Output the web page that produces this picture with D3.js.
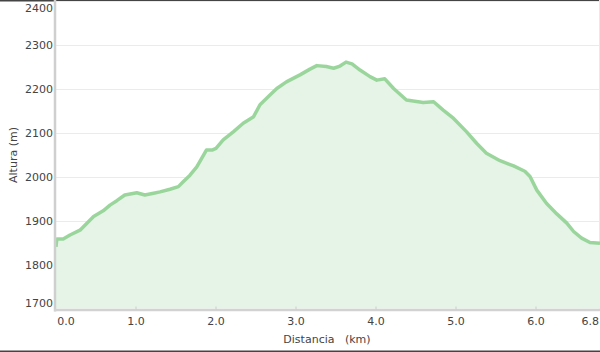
<!DOCTYPE html>
<html><head><meta charset="utf-8">
<script src="https://cdn.jsdelivr.net/npm/d3@7"></script>
<style>body{margin:0;background:#fff}svg{display:block}text{font-family:"DejaVu Sans",Verdana,sans-serif}</style>
</head><body>
<svg id="c" width="600" height="352"></svg>
<script>
const distKm = [0,0.01,0.09,0.175,0.3,0.47,0.59,0.675,0.76,0.86,1.01,1.11,1.22,1.30,1.425,1.53,1.59,1.675,1.76,1.88,1.95,2.0,2.09,2.22,2.34,2.47,2.55,2.675,2.76,2.88,3.05,3.175,3.26,3.38,3.47,3.55,3.625,3.70,3.80,3.925,4.01,4.11,4.22,4.38,4.59,4.72,4.84,4.97,5.13,5.26,5.38,5.55,5.72,5.86,5.925,6.01,6.13,6.26,6.385,6.47,6.57,6.675,6.8];
const altM = [1840,1858,1858,1867,1878,1909,1922,1935,1945,1958,1963,1958,1962,1965,1971,1977,1988,2003,2022,2060,2060,2064,2083,2102,2121,2136,2163,2185,2200,2215,2231,2244,2252,2250,2246,2251,2260,2256,2242,2227,2219,2222,2200,2174,2168,2170,2151,2132,2102,2075,2053,2036,2024,2012,2000,1969,1939,1915,1894,1875,1860,1850,1848];
const yTicks = [1700,1800,1900,2000,2100,2200,2300,2400];
const xTicks = [0,1,2,3,4,5,6,6.8];
const xLabels = ["0.0","1.0","2.0","3.0","4.0","5.0","6.0","6.8"];

const svg = d3.select("#c");
const L = 56, R = 600, T = 0.5, B = 308.5;
const x = d3.scaleLinear().domain([0,6.8]).range([L,R]);
const y = d3.scaleLinear().domain([1700,2400]).range([B,T]);
const data = distKm.map((d,i)=>({d, a: altM[i]}));

// borders
svg.append("rect").attr("x",0).attr("y",0).attr("width",600).attr("height",1.5).attr("fill","#444");
svg.append("rect").attr("x",0).attr("y",350.5).attr("width",600).attr("height",1.5).attr("fill","#444");

// grid
svg.append("g").selectAll("line").data(yTicks.slice(1)).join("line")
  .attr("x1",L).attr("x2",R).attr("y1",d=>Math.round(y(d))+0.5).attr("y2",d=>Math.round(y(d))+0.5)
  .attr("stroke","#ebebeb").attr("stroke-width",1);
svg.append("line").attr("x1",599.5).attr("x2",599.5).attr("y1",0).attr("y2",B)
  .attr("stroke","#e4ece6").attr("stroke-width",1);

// area
svg.append("path").datum(data)
  .attr("d", d3.area().x(d=>x(d.d)).y0(B).y1(d=>y(d.a)))
  .attr("fill","#e6f4e8");
svg.append("path").datum(data)
  .attr("d", d3.line().x(d=>x(d.d)).y(d=>y(d.a)))
  .attr("fill","none").attr("stroke","#9ad69c").attr("stroke-width",3.5).attr("stroke-linejoin","round");

// axes lines
svg.append("line").attr("x1",L-1).attr("x2",L-1).attr("y1",0).attr("y2",B+3).attr("stroke","#cfcfcf").attr("stroke-width",2.5);
svg.append("line").attr("x1",L-2).attr("x2",R).attr("y1",B+1.5).attr("y2",B+1.5).attr("stroke","#d2d2d2").attr("stroke-width",2.5);

// x ticks
svg.append("g").selectAll("line").data(xTicks.slice(1,-1)).join("line")
  .attr("x1",d=>x(d)).attr("x2",d=>x(d)).attr("y1",B-2).attr("y2",B+1)
  .attr("stroke","#ccc").attr("stroke-width",1);

// y labels
svg.append("g").selectAll("text").data(yTicks).join("text")
  .attr("x",53).attr("y",d=> d===2400 ? y(d)+11.5 : d===1700 ? y(d)-1.5 : y(d)+4)
  .attr("text-anchor","end").attr("font-size",11).attr("fill","#444").text(d=>d);

// x labels
svg.append("g").selectAll("text").data(xTicks).join("text")
  .attr("x",(d,i)=> i===0 ? x(d)+10 : i===xTicks.length-1 ? x(d)-1 : x(d)).attr("y",325)
  .attr("text-anchor",(d,i)=> i===xTicks.length-1 ? "end" : "middle")
  .attr("font-size",11).attr("fill","#444").text((d,i)=>xLabels[i]);

svg.append("text").attr("x",327).attr("y",343).attr("text-anchor","middle")
  .attr("font-size",11).attr("fill","#444").attr("xml:space","preserve").text("Distancia   (km)");
svg.append("text").attr("transform","translate(17,155) rotate(-90)").attr("text-anchor","middle")
  .attr("font-size",11).attr("fill","#444").text("Altura (m)");
</script>
</body></html>
